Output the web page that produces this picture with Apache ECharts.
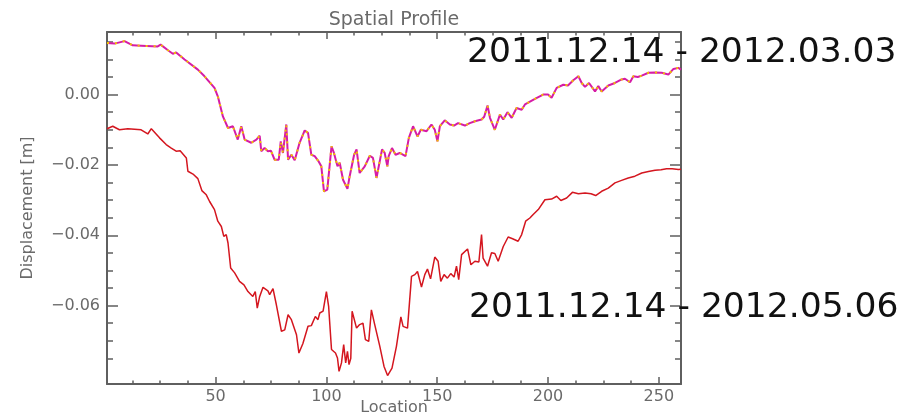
<!DOCTYPE html>
<html>
<head>
<meta charset="utf-8">
<script src="https://cdn.jsdelivr.net/npm/echarts@6/dist/echarts.min.js"></script>
<style>html,body{margin:0;padding:0;background:#fff;}#c{width:915px;height:417px;}</style>
</head>
<body>
<div id="c"></div>
<script>
// ---- data ----
const topLoc = [1,4.4,8.9,12.6,16.4,23.9,25.2,28.5,30.7,32.2,36,42,45,49.5,51,53.3,55.6,57.8,60,61.6,63.1,66.1,68.4,69.9,70.6,72.1,73.6,75,76.6,78.5,79.4,80.4,81.9,82.7,84.2,85.7,87.9,90.2,91.7,93.2,94.7,96.5,97.7,98.9,100.4,102.3,103.4,105,106,107.5,109.5,110.5,112.5,113.6,115,117.3,119.6,121,122.6,123.3,125.1,126.3,127.5,128.1,129.6,131.2,133.1,135.7,137.2,139.1,141.1,142.6,145.2,147.4,148.9,150.1,151.2,153.4,155.7,157.6,159.4,162.5,164.7,167,170,171.2,172.7,173.8,176,178.3,179.8,181.7,183.6,185.8,188.1,189.6,194.1,197.8,200,201.6,203.9,206.9,209,211.4,213.7,215.2,216.7,218.5,221.2,222.7,224.2,227.2,230.2,233.2,234.7,237,238.5,240.5,242.3,245.3,248.3,251.3,254.3,256.6,258.8,260];
const topDisp = [0.0147,0.0145,0.0152,0.0140,0.0139,0.0137,0.0142,0.0126,0.0116,0.0120,0.0100,0.0071,0.0052,0.0019,-0.0005,-0.0062,-0.0095,-0.0090,-0.0128,-0.0090,-0.0128,-0.0137,-0.0128,-0.0117,-0.0161,-0.0152,-0.0161,-0.0160,-0.0185,-0.0185,-0.0133,-0.0166,-0.0085,-0.0185,-0.0171,-0.0187,-0.0137,-0.0102,-0.0109,-0.0171,-0.0175,-0.0190,-0.0204,-0.0275,-0.0270,-0.0147,-0.0166,-0.0204,-0.0194,-0.0242,-0.0268,-0.0232,-0.0171,-0.0156,-0.0223,-0.0204,-0.0174,-0.0180,-0.0237,-0.0242,-0.0156,-0.0166,-0.0204,-0.0175,-0.0152,-0.0171,-0.0166,-0.0175,-0.0123,-0.0090,-0.0119,-0.0100,-0.0104,-0.0085,-0.0100,-0.0133,-0.0090,-0.0073,-0.0085,-0.0088,-0.0081,-0.0088,-0.0081,-0.0076,-0.0071,-0.0063,-0.0031,-0.0066,-0.0100,-0.0057,-0.0071,-0.0050,-0.0066,-0.0038,-0.0043,-0.0028,-0.0012,0.0000,0.0000,-0.0009,0.0019,0.0028,0.0026,0.0041,0.0052,0.0033,0.0022,0.0033,0.0009,0.0024,0.0009,0.0026,0.0033,0.0043,0.0045,0.0035,0.0052,0.0050,0.0054,0.0062,0.0063,0.0062,0.0057,0.0073,0.0076,0.0071];

const botLoc = [1,3.6,6.6,10.4,16.4,19.4,21,24.7,27.7,30,32.2,34,36.8,37.5,39.8,42,43.8,45.8,47.3,49.5,51,52.6,53.7,54.8,55.6,56.8,58.6,60.8,62.8,64.6,66.8,67.9,68.8,69.9,71.4,73.6,74.4,75.9,77.4,79.7,81.2,82.7,84.2,86.5,87.6,89.4,91.7,93.2,95,96.2,97,98.5,100,101,102.3,104.1,105,105.7,106.8,107.8,108.7,109.5,110.2,111,111.6,113.6,115,116.5,117.6,119.1,120.3,121.8,124.1,126,127.6,129.6,131.6,133.6,134.6,136.6,138.4,139.9,141.1,142.9,144.4,145.6,147,148.9,150.4,151.6,153.1,154.6,156.1,157.6,158.7,159.7,161,163.7,165.2,167,168.8,170,170.7,172.7,174.5,176,177.5,179.8,182,184,186.5,188.1,189.9,191.8,193.3,195.6,198.6,201.6,203.9,205.8,208.4,211,213.7,216.7,219.4,221.5,224.2,227.2,230.2,233.2,236.2,239.2,242.3,245.3,248.3,251,253.5,256,258.8,260];
const botDisp = [-0.0097,-0.0090,-0.0100,-0.0097,-0.0100,-0.0112,-0.0097,-0.0123,-0.0142,-0.0152,-0.0161,-0.0160,-0.0180,-0.0218,-0.0226,-0.0239,-0.0273,-0.0285,-0.0304,-0.0327,-0.0360,-0.0375,-0.0403,-0.0398,-0.0422,-0.0493,-0.0507,-0.0531,-0.0541,-0.0560,-0.0574,-0.0560,-0.0607,-0.0574,-0.0548,-0.0558,-0.0569,-0.0552,-0.0597,-0.0673,-0.0669,-0.0626,-0.0640,-0.0683,-0.0735,-0.0708,-0.0659,-0.0657,-0.0631,-0.0640,-0.0621,-0.0616,-0.0560,-0.0602,-0.0725,-0.0735,-0.0749,-0.0787,-0.0763,-0.0711,-0.0763,-0.0730,-0.0768,-0.0750,-0.0616,-0.0664,-0.0654,-0.0650,-0.0697,-0.0702,-0.0612,-0.0654,-0.0716,-0.0773,-0.0799,-0.0778,-0.0716,-0.0632,-0.0659,-0.0664,-0.0517,-0.0512,-0.0503,-0.0547,-0.0512,-0.0496,-0.0524,-0.0462,-0.0474,-0.0531,-0.0512,-0.0522,-0.0509,-0.0519,-0.0488,-0.0526,-0.0455,-0.0439,-0.0484,-0.0474,-0.0476,-0.0398,-0.0465,-0.0488,-0.0450,-0.0452,-0.0474,-0.0432,-0.0405,-0.0410,-0.0417,-0.0398,-0.0360,-0.0351,-0.0341,-0.0327,-0.0299,-0.0297,-0.0289,-0.0301,-0.0294,-0.0278,-0.0282,-0.0280,-0.0282,-0.0287,-0.0275,-0.0266,-0.0251,-0.0244,-0.0237,-0.0232,-0.0223,-0.0219,-0.0215,-0.0214,-0.0211,-0.0211,-0.0213,-0.0212];

const xTickLabels = [50, 100, 150, 200, 250];
const yTickLabels = [-0.06, -0.04, -0.02, 0];
const xRange = [1, 260];
const yRange = [-0.0823, 0.0178];
const titleText = 'Spatial Profile';
const xName = 'Location';
const yName = 'Displacement [m]';
const label1 = '2011.12.14 - 2012.03.03';
const label2 = '2011.12.14 - 2012.05.06';

// ---- minor tick positions ----
const xMinor = [];
for (let v = 12.5; v < 260; v += 12.5) if (v % 50 !== 0) xMinor.push(v);
const yMinor = [];
for (let k = -16; k <= 3; k++) { const v = k * 0.005; if (k % 4 !== 0 && v > yRange[0] && v < yRange[1]) yMinor.push(+v.toFixed(3)); }

const axisColor = '#5f5f5f';
const textColor = '#6a6a6a';
const font = 'DejaVu Sans';

function xAxisCfg(pos, ticks, len, line, labels) {
  return {
    type: 'value', position: pos, min: xRange[0], max: xRange[1],
    axisLine: { show: line, onZero: false, lineStyle: { color: axisColor, width: 2 } },
    axisTick: { show: true, inside: true, length: len, customValues: ticks, lineStyle: { color: axisColor, width: 1.5 } },
    axisLabel: labels ? { show: true, customValues: xTickLabels, color: textColor, fontFamily: font, fontSize: 16, margin: 5 } : { show: false },
    splitLine: { show: false },
    name: labels ? xName : '', nameLocation: 'middle', nameGap: 16, nameMoveOverlap: false,
    nameTextStyle: { color: textColor, fontFamily: font, fontSize: 16 }
  };
}
function yAxisCfg(pos, ticks, len, line, labels) {
  return {
    type: 'value', position: pos, min: yRange[0], max: yRange[1],
    axisLine: { show: line, onZero: false, lineStyle: { color: axisColor, width: 2 } },
    axisTick: { show: true, inside: true, length: len, customValues: ticks, lineStyle: { color: axisColor, width: 1.5 } },
    axisLabel: labels ? { show: true, customValues: yTickLabels, color: textColor, fontFamily: font, fontSize: 16, margin: 7,
      formatter: v => (Math.abs(v) < 1e-9 ? '0.00' : (v < 0 ? '\u2212' : '') + Math.abs(v).toFixed(2)) } : { show: false },
    splitLine: { show: false },
    name: labels ? yName : '', nameLocation: 'middle', nameGap: 71, nameRotate: 90, nameMoveOverlap: false,
    nameTextStyle: { color: textColor, fontFamily: font, fontSize: 16 }
  };
}

const chart = echarts.init(document.getElementById('c'), null, { renderer: 'canvas' });
chart.setOption({
  animation: false,
  backgroundColor: '#fff',
  grid: { left: 107, right: 234, top: 32, bottom: 33, containLabel: false, outerBoundsMode: 'none' },
  xAxis: [
    xAxisCfg('bottom', xTickLabels, 7, true, true),
    xAxisCfg('bottom', xMinor, 3.5, false, false),
    xAxisCfg('top', xTickLabels, 7, true, false),
    xAxisCfg('top', xMinor, 3.5, false, false)
  ],
  yAxis: [
    yAxisCfg('left', yTickLabels, 11, true, true),
    yAxisCfg('left', yMinor, 6, false, false),
    yAxisCfg('right', yTickLabels, 11, true, false),
    yAxisCfg('right', yMinor, 6, false, false)
  ],
  series: [
    { type: 'line', xAxisIndex: 0, yAxisIndex: 0, symbol: 'none', z: 3,
      data: botLoc.map((x, i) => [x, botDisp[i]]), lineStyle: { color: '#d4161f', width: 1.5 } },
    { type: 'line', xAxisIndex: 0, yAxisIndex: 0, symbol: 'none', z: 3,
      data: topLoc.map((x, i) => [x, topDisp[i]]), lineStyle: { color: '#d61ca6', width: 2 } },
    { type: 'line', xAxisIndex: 0, yAxisIndex: 0, symbol: 'none', z: 4,
      data: topLoc.map((x, i) => [x, topDisp[i]]), lineStyle: { color: '#f2c200', width: 2, type: [2, 6] } }
  ],
  graphic: [
    { type: 'text', x: 394, y: 20, z: 10, style: { text: titleText, fill: textColor, font: '19px "DejaVu Sans"', textAlign: 'center', textVerticalAlign: 'middle' } },
    { type: 'text', x: 467, y: 53, z: 10, style: { text: label1, fill: '#111', font: '34.5px "DejaVu Sans"', textAlign: 'left', textVerticalAlign: 'middle' } },
    { type: 'text', x: 469, y: 308, z: 10, style: { text: label2, fill: '#111', font: '34.5px "DejaVu Sans"', textAlign: 'left', textVerticalAlign: 'middle' } }
  ]
});
</script>
</body>
</html>
